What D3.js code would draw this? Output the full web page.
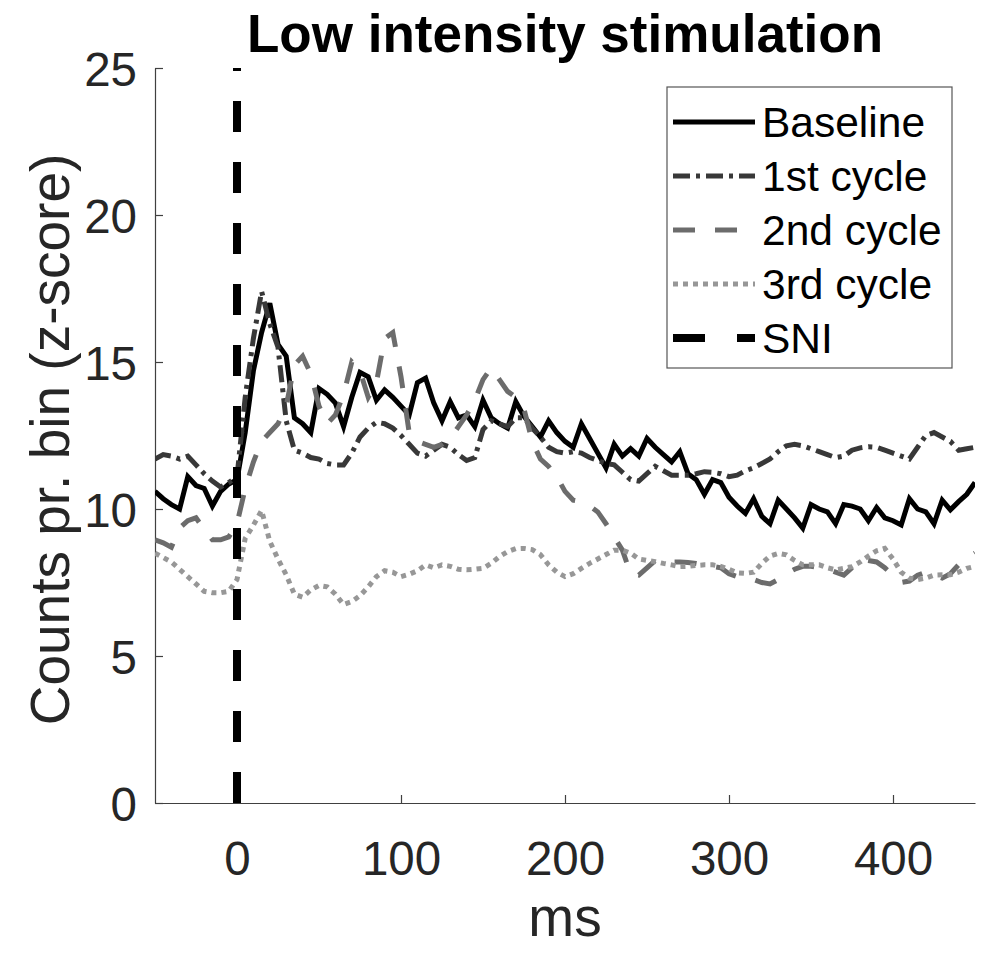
<!DOCTYPE html>
<html>
<head>
<meta charset="utf-8">
<script src="https://cdn.jsdelivr.net/npm/d3@7/dist/d3.min.js"></script>
<style>
  html, body { margin: 0; padding: 0; background: #fff; }
  svg text { font-family: "Liberation Sans", Arial, Helvetica, sans-serif; }
</style>
</head>
<body>
<div id="chart"></div>
<script>
// Time bins (ms), 5 ms each
let timeMs = d3.range(-50, 451, 5);

let baseline = [
  10.6, 10.35, 10.15, 10.0, 11.1, 10.8, 10.7, 10.1, 10.6, 10.85,
  11.0, 12.6, 14.7, 16.0, 17.0, 15.6, 15.2, 13.1, 12.9, 12.6,
  14.1, 13.9, 13.6, 12.8, 13.8, 14.65, 14.5, 13.7, 14.05, 13.8,
  13.5, 13.2, 14.3, 14.45, 13.6, 13.0, 13.65, 13.1, 13.2, 12.8,
  13.7, 13.1, 12.9, 12.75, 13.65, 13.15, 12.8, 12.45, 13.0, 12.6,
  12.3, 12.1, 12.9, 12.4, 11.9, 11.4, 12.2, 11.8, 12.05, 11.8,
  12.4, 12.1, 11.85, 11.6, 11.95, 11.2, 11.0, 10.5, 11.0, 10.9,
  10.4, 10.1, 9.85, 10.35, 9.75, 9.5, 10.3, 10.0, 9.7, 9.35,
  10.15, 10.0, 9.9, 9.5, 10.15, 10.1, 10.0, 9.6, 10.05, 9.7,
  9.6, 9.46, 10.35, 10.0, 9.9, 9.5, 10.3, 9.97, 10.25, 10.5,
  10.9
];

let cycle1 = [
  11.7, 11.85, 11.8, 11.7, 11.8, 11.5, 11.2, 10.95, 10.75, 10.9,
  11.1, 13.8, 15.8, 17.4, 16.3, 15.5, 13.0, 12.0, 11.9, 11.75,
  11.7, 11.55, 11.5, 11.5, 11.9, 12.45, 12.75, 12.95, 12.9, 12.75,
  12.5, 12.2, 11.9, 11.8, 12.0, 12.2, 12.1, 11.85, 11.65, 11.75,
  12.7, 13.0, 12.9, 12.8, 13.1, 13.1, 12.75, 12.45, 12.1, 11.95,
  11.9, 11.95, 11.9, 11.75, 11.65, 11.55, 11.5, 11.25, 11.0, 10.95,
  11.2, 11.45, 11.3, 11.15, 11.15, 11.15, 11.2, 11.27, 11.25, 11.2,
  11.1, 11.15, 11.3, 11.4, 11.55, 11.7, 11.95, 12.15, 12.2, 12.15,
  12.05, 11.95, 11.85, 11.75, 11.8, 12.0, 12.08, 12.12, 12.1, 12.0,
  11.9, 11.8, 11.7, 12.1, 12.5, 12.6, 12.45, 12.3, 12.0, 12.05,
  12.1
];

let cycle2 = [
  8.95, 8.85, 8.7, 9.35, 9.6, 9.7, 9.3, 8.95, 8.95, 9.05,
  9.5, 10.7, 11.6, 12.3, 12.6, 12.9, 13.5, 14.9, 15.2, 14.6,
  13.5, 12.9, 13.2, 13.9, 15.0, 14.7, 13.8, 14.3, 15.8, 16.0,
  14.5, 12.6, 12.3, 12.2, 12.1, 12.2, 12.4, 12.8, 13.2, 13.7,
  14.4, 14.8, 14.4, 14.0, 13.8, 13.4, 12.3, 11.7, 11.45, 11.1,
  10.6, 10.3, 10.25, 10.1, 9.9, 9.5, 9.05, 8.6, 7.8, 7.75,
  8.0, 8.25, 8.2, 8.2, 8.2, 8.18, 8.15, 8.1, 8.05, 8.0,
  7.8, 7.7, 7.65, 7.6, 7.5, 7.45, 7.6, 7.8, 7.95, 8.05,
  8.05, 8.0, 7.95, 7.85, 7.75, 8.0, 8.3, 8.25, 8.2, 8.0,
  7.75, 7.5, 7.55, 7.75, 7.85, 7.75, 7.65, 7.8, 8.1, 8.3,
  8.5
];

let cycle3 = [
  8.5, 8.35, 8.2, 7.95, 7.7, 7.45, 7.2, 7.15, 7.15, 7.2,
  7.6, 9.0, 9.45, 9.95, 8.9, 8.3, 7.76, 7.1, 7.0, 7.25,
  7.4, 7.35, 7.1, 6.75, 6.85, 7.05, 7.35, 7.7, 7.9, 7.85,
  7.7, 7.78, 7.9, 8.1, 8.0, 8.1, 8.05, 7.95, 7.93, 7.95,
  7.98, 8.15, 8.38, 8.55, 8.65, 8.66, 8.62, 8.45, 8.1, 7.85,
  7.7, 7.8, 7.98, 8.15, 8.3, 8.45, 8.6, 8.6, 8.5, 8.3,
  8.25, 8.21, 8.15, 8.1, 8.04, 8.05, 8.08, 8.1, 8.1, 8.05,
  7.95, 7.83, 7.81, 7.85, 8.15, 8.4, 8.49, 8.44, 8.25, 8.1,
  8.1, 8.1, 8.0, 7.93, 7.98, 8.04, 8.2, 8.4, 8.58, 8.66,
  8.3, 7.85, 7.65, 7.6, 7.65, 7.75, 7.76, 7.76, 7.85, 7.98,
  8.05
];

let seriesNames = ['Baseline', '1st cycle', '2nd cycle', '3rd cycle', 'SNI'];
let xTicks = [0, 100, 200, 300, 400];
let yTicks = [0, 5, 10, 15, 20, 25];
let sniTime = 0;

// Styles per series
let styles = [
  { color: '#000000', width: 5, dash: null },
  { color: '#383838', width: 5, dash: '17,6,4,6' },
  { color: '#6c6c6c', width: 5, dash: '22,20' },
  { color: '#979797', width: 5, dash: '5,5' },
  { color: '#000000', width: 8, dash: '31,30' }
];

let W = 981, H = 954;
let margin = { top: 68, right: 6, bottom: 151, left: 155 };
let width = W - margin.left - margin.right;
let height = H - margin.top - margin.bottom;

let svg = d3.select('#chart')
  .append('svg')
  .attr('width', W)
  .attr('height', H);

svg.append('defs').append('clipPath')
  .attr('id', 'plot-clip')
  .append('rect')
  .attr('width', width)
  .attr('height', height);

let g = svg.append('g')
  .attr('transform', 'translate(' + margin.left + ',' + margin.top + ')');

let x = d3.scaleLinear().domain([-50, 450]).range([0, width]);
let y = d3.scaleLinear().domain([0, 25]).range([height, 0]);

// Axes (left and bottom only, ticks inward)
let axisColor = '#404040';
let xAxis = g.append('g')
  .attr('transform', 'translate(0,' + height + ')')
  .call(d3.axisBottom(x).tickValues(xTicks).tickSizeInner(-8).tickSizeOuter(0).tickPadding(38));
let yAxis = g.append('g')
  .call(d3.axisLeft(y).tickValues(yTicks).tickSizeInner(-8).tickSizeOuter(0).tickPadding(18));

[xAxis, yAxis].forEach(function(a) {
  a.select('.domain').attr('stroke', axisColor).attr('stroke-width', 1.2);
  a.selectAll('.tick line').attr('stroke', axisColor).attr('stroke-width', 1.2);
  a.selectAll('.tick text')
    .attr('fill', '#262626')
    .attr('font-size', '47.5px');
});
yAxis.selectAll('.tick text').attr('dy', '0.36em');

// Lines
let lineGen = d3.line()
  .x(function(d) { return x(d[0]); })
  .y(function(d) { return y(d[1]); });

let seriesData = [baseline, cycle1, cycle2, cycle3];
let plot = g.append('g').attr('clip-path', 'url(#plot-clip)');

seriesData.forEach(function(vals, i) {
  let pts = timeMs.map(function(t, k) { return [t, vals[k]]; });
  plot.append('path')
    .datum(pts)
    .attr('fill', 'none')
    .attr('stroke', styles[i].color)
    .attr('stroke-width', styles[i].width)
    .attr('stroke-linejoin', 'miter')
    .attr('stroke-dasharray', styles[i].dash)
    .attr('d', lineGen);
});

// SNI line at 0 ms
plot.append('path')
  .datum([[sniTime, 0], [sniTime, 25]])
  .attr('fill', 'none')
  .attr('stroke', styles[4].color)
  .attr('stroke-width', styles[4].width)
  .attr('stroke-dasharray', styles[4].dash)
  .attr('d', lineGen);

// Title and axis labels
svg.append('text')
  .attr('x', margin.left + width / 2)
  .attr('y', 52)
  .attr('text-anchor', 'middle')
  .attr('font-size', '53px')
  .attr('font-weight', 'bold')
  .attr('fill', '#000')
  .text('Low intensity stimulation');

svg.append('text')
  .attr('x', margin.left + width / 2)
  .attr('y', 936)
  .attr('text-anchor', 'middle')
  .attr('font-size', '55px')
  .attr('fill', '#262626')
  .text('ms');

svg.append('text')
  .attr('transform', 'translate(69,' + (margin.top + height / 2 + 4) + ') rotate(-90)')
  .attr('text-anchor', 'middle')
  .attr('font-size', '55px')
  .attr('fill', '#262626')
  .text('Counts pr. bin (z-score)');

// Legend
let legend = svg.append('g').attr('transform', 'translate(667,87)');
legend.append('rect')
  .attr('width', 285)
  .attr('height', 281)
  .attr('fill', '#fff')
  .attr('stroke', '#555')
  .attr('stroke-width', 1.2);

seriesNames.forEach(function(name, i) {
  let ry = 35 + i * 54;
  legend.append('line')
    .attr('x1', 6).attr('x2', 88)
    .attr('y1', ry).attr('y2', ry)
    .attr('stroke', styles[i].color)
    .attr('stroke-width', styles[i].width)
    .attr('stroke-dasharray', i === 4 ? '32,32' : styles[i].dash);
  legend.append('text')
    .attr('x', 95)
    .attr('y', ry)
    .attr('dy', '0.36em')
    .attr('font-size', '42.5px')
    .attr('fill', '#000')
    .text(name);
});
</script>
</body>
</html>
